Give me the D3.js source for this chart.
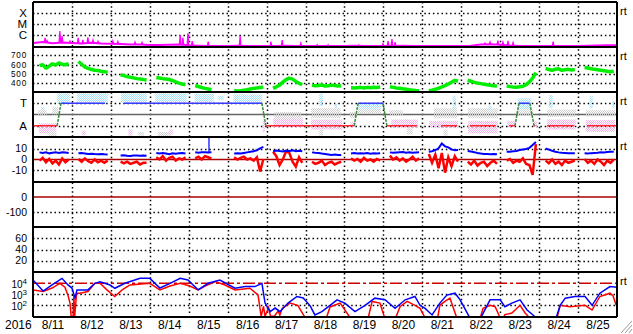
<!DOCTYPE html>
<html>
<head>
<meta charset="utf-8">
<script src="https://cdn.jsdelivr.net/npm/d3@7"></script>
<style>
  body { margin: 0; background: #fff; }
  svg { display: block; font-family: "Liberation Sans", Arial, sans-serif; }
</style>
</head>
<body>
<svg id="chart" width="633" height="334"></svg>
<script>
// ---- data (time = days since 2016-08-11 00:00) ----
const YEAR_LABEL = '2016';
const DAY_LABELS = ['8/11','8/12','8/13','8/14','8/15','8/16','8/17','8/18','8/19','8/20','8/21','8/22','8/23','8/24','8/25'];
const SAMPLE_HOURS = [4, 6, 8, 10, 12, 14, 16, 18, 20, 22];

// solar wind speed, km/s (one row per day)
const speed = [
  590, 600, 560, 585, 610, 595, 620, 605, 600, 612,
  635, 605, 575, 560, 548, 540, 538, 530, 525, 520,
  null, 492, 482, 472, 465, 458, 450, 445, 440, 436,
  462, 456, 450, 446, 440, 430, 415, 402, 392, 385,
  376, 365, 355, 345, 338, 330, null, null, null, null,
  322, 318, 320, 325, 330, 338, 345, 350, 355, 358,
  345, 362, 380, 412, 440, 455, 445, 420, 400, 385,
  380, 372, 376, 382, 370, 374, 380, 376, 370, 372,
  352, 350, 353, 356, 350, 356, 352, 358, 355, 360,
  362, 356, 350, 346, 340, 335, 330, 326, 322, 320,
  322, 326, 335, 346, 360, 375, 392, 412, 432, 422,
  435, 422, 410, 402, 396, 390, 385, 378, 372, 370,
  372, 364, 360, 358, 362, 368, 385, 415, 455, 515,
  560, 548, 540, 552, 556, 540, 546, 550, 544, 548,
  570, 565, 556, 550, 546, 540, 536, 530, 525, 530
];

// IMF |B| (nT)
const bt = [
  6.5, 6.0, 6.6, 5.6, 6.2, 6.5, 6.0, 6.6, 6.4, 6.0,
  5.6, 5.9, 5.5, 5.0, 5.3, 5.0, 4.8, 5.1, 4.8, 4.6,
  null, 3.6, 3.9, 3.4, 3.2, 3.6, 3.7, 3.4, 3.6, 3.4,
  6.0, 5.4, 5.9, 5.5, 4.9, 5.7, 5.2, 5.6, 5.9, 5.5,
  6.5, 6.2, 6.6, 6.7, 6.4, 6.6, null, null, null, null,
  5.5, 5.7, 5.4, 6.0, 6.5, 7.0, 7.6, 8.4, 10.2, 11.5,
  7.6, 8.1, 7.7, 7.4, 8.0, 7.8, 8.3, 7.5, 7.9, 7.6,
  6.5, 6.1, 6.0, 5.4, 5.0, 4.6, 4.2, 4.5, 4.0, 4.2,
  5.5, 5.9, 5.4, 5.7, 5.5, 5.9, 5.3, 5.6, 5.5, 5.7,
  6.5, 6.1, 6.4, 6.6, 6.8, 6.2, 6.5, 6.2, 6.4, 6.6,
  7.0, 7.6, 8.6, 10.2, 14.6, 12.0, 11.0, 9.2, 8.5, 8.6,
  7.8, 7.2, 6.7, 6.0, 5.4, 5.1, 5.0, 4.8, 4.9, 4.7,
  7.0, 7.1, 7.5, 7.8, 8.6, 9.1, 9.6, 10.6, 13.2, 16.0,
  10.0, 9.0, 8.0, 7.1, 6.5, 6.1, 6.0, 5.8, 5.6, 5.6,
  5.6, 5.4, 5.8, 6.0, 6.2, 6.6, 6.4, 6.8, 7.0, 7.1
];
const btSpikes = [[4.52, 6.5, 20]];

// IMF Bz (nT)
const bz = [
  -1, 1.5, -2.5, 0.5, -3.5, -1, -4.5, 1, -2.5, 0,
  0.5, -2, 1, -1.5, -3, 0, -2.5, -1, -3, -1,
  null, -2, -3.5, -2, -4, -3, -2, -4.5, -3, -3,
  2, 0, 3, -1, 1.5, 2.5, -1, 1, 0, 2,
  1, 2.5, 0, 3, 2, 1, null, null, null, null,
  2, 0, 1.5, 2.5, 0, 1, -1, 2, -11, 0.5,
  7, 3, -5, 0, 7.5, 6, -2, -6.5, 2, -3,
  -2, -4, -3, -1, -5, -3, -2, -4.5, -3, -2,
  1, -1, 0.5, -2, 1.5, -1, 0, -2, 0.5, -1,
  3.5, 0, 2, -1, 1, -2, 0, 2.5, -1, 1,
  5, -3, 4.5, -8, 6, -12, 2, -6, 3, -2,
  -2, -4.5, -1, -5.5, -3, -2, -6, -3, -1, -4,
  -1, 0.5, -3, -1, -2, 1, -4, -5, -14, 14,
  -1, -3.5, 0, -4, -2, -5, -1, -3, -2, -1,
  0.5, -3, -1, -4, 0, -2, -5, -1, -3, 0
];

// X-ray background flux (W/m2), every 6 hours
const xrayBase = [
  1.9e-7, 2.3e-7, 1.8e-7, 2.1e-7,
  1.9e-7, 1.7e-7, 2.0e-7, 1.7e-7,
  1.6e-7, 1.5e-7, 1.4e-7, 1.35e-7,
  1.25e-7, 1.2e-7, 1.3e-7, 1.4e-7,
  1.15e-7, 1.05e-7, 1.0e-7, 1.0e-7,
  1.0e-7, 1.05e-7, 1.0e-7, 1.0e-7,
  1.0e-7, 1.0e-7, 1.05e-7, 1.0e-7,
  1.0e-7, 1.0e-7, 1.0e-7, 1.0e-7,
  1.0e-7, 1.05e-7, 1.0e-7, 1.0e-7,
  1.0e-7, 1.0e-7, 1.05e-7, 1.0e-7,
  1.0e-7, 1.0e-7, 1.0e-7, 1.0e-7,
  1.0e-7, 1.05e-7, 1.35e-7, 1.45e-7,
  1.3e-7, 1.1e-7, 1.0e-7, 1.0e-7,
  1.0e-7, 1.0e-7, 1.0e-7, 1.0e-7,
  1.0e-7, 1.05e-7, 1.1e-7, 1.15e-7,
  1.15e-7
];
// flares: [time, peak flux]
const xrayFlares = [
  [0.31, 5.4e-7], [0.36, 3.2e-7], [0.69, 2.3e-6], [0.745, 8e-7], [0.95, 2.8e-7],
  [1.16, 5.4e-7], [1.28, 3.5e-7], [1.41, 6e-7], [1.54, 3.5e-7], [1.67, 2.6e-7],
  [2.05, 2.8e-7], [2.18, 2.5e-7], [2.62, 2.3e-7], [2.8, 2.1e-7],
  [3.78, 1e-6], [3.85, 5.4e-7], [3.98, 1.4e-6], [4.09, 2.8e-7], [4.5, 2.5e-7],
  [5.32, 8.1e-7], [6.11, 2.5e-7], [6.4, 3.5e-7], [6.88, 1.8e-7], [7.3, 1.3e-7],
  [7.58, 1.3e-7], [8.37, 1.25e-7], [8.99, 1.6e-7], [9.12, 2.8e-7], [9.22, 4.3e-7],
  [9.3, 2.3e-7], [11.61, 1.8e-7], [11.74, 2.3e-7], [11.94, 3e-7], [12.07, 2.3e-7],
  [12.2, 3e-7], [12.33, 2e-7], [13.36, 2.5e-7]
];

// IMF sector: [start, end, 'A' away | 'T' toward]
const sectors = [
  [0, 0.62, 'A'], [0.72, 1.85, 'T'], [2.34, 5.88, 'T'], [5.98, 8.25, 'A'],
  [8.35, 8.99, 'T'], [9.09, 9.86, 'A'], [10.48, 10.89, 'A'], [11.22, 11.89, 'A'],
  [12.23, 12.38, 'A'], [12.48, 12.76, 'T'], [12.87, 12.9, 'A'], [13.2, 13.9, 'A'],
  [14.23, 14.98, 'A']
];
// IMF phi angle scatter: [start, end, low deg, high deg, kind]
const phiClouds = [
  [0.13, 0.35, 175, 215, 'g'], [0.2, 0.3, 215, 240, 's'], [0.15, 0.6, 30, 110, 'p'],
  [0.4, 0.6, 5, 50, 'g'], [0.5, 0.65, 180, 240, 'g'], [0.62, 0.95, 270, 350, 's'],
  [1.13, 1.92, 275, 350, 's'], [1.25, 1.35, 15, 50, 'p'],
  [2.26, 2.93, 275, 350, 's'], [2.45, 2.55, 10, 60, 'p'], [2.7, 2.85, 10, 40, 'g'],
  [3.14, 3.95, 280, 350, 's'], [3.2, 3.55, 5, 40, 'g'], [3.5, 3.6, 20, 60, 'p'],
  [4.15, 4.65, 280, 345, 's'], [4.75, 4.9, 295, 330, 's'],
  [5.15, 5.88, 275, 340, 's'], [5.9, 5.96, 40, 140, 'p'],
  [6.17, 6.94, 80, 150, 'p'], [6.2, 6.9, 150, 200, 'g'],
  [7.14, 7.94, 60, 140, 'p'], [7.14, 7.9, 150, 230, 'g'], [7.35, 7.45, 250, 345, 's'],
  [7.35, 7.45, 10, 60, 'g'], [7.75, 7.82, 230, 270, 's'],
  [8.14, 8.32, 150, 200, 'g'], [8.15, 8.3, 80, 120, 'p'], [8.35, 8.94, 225, 270, 's'],
  [8.35, 8.94, 190, 225, 'g'],
  [9.15, 9.5, 175, 215, 'g'], [9.2, 9.89, 70, 140, 'p'], [9.6, 9.75, 20, 70, 'g'],
  [10.17, 10.92, 70, 130, 'p'], [10.3, 10.9, 150, 230, 'g'], [10.78, 10.86, 220, 330, 's'],
  [10.55, 10.65, 10, 60, 'g'],
  [11.17, 11.94, 150, 230, 'g'], [11.17, 11.94, 30, 130, 'p'], [11.7, 11.78, 210, 250, 's'],
  [12.18, 12.38, 80, 130, 'p'], [12.45, 12.8, 220, 310, 's'], [12.45, 12.85, 170, 220, 'g'],
  [12.85, 12.95, 80, 130, 'p'],
  [13.25, 13.35, 230, 335, 's'], [13.2, 13.95, 160, 220, 'g'], [13.2, 13.95, 60, 140, 'p'],
  [14.3, 14.38, 230, 330, 's'], [14.2, 14.95, 165, 215, 'g'], [14.2, 14.95, 40, 135, 'p'],
  [14.88, 14.94, 230, 290, 's']
];

// electron flux, log10 of pfu: [time, log10 flux]; null = off scale
const elecLowLog = [
  [0, 4.3], [0.26, 3.3], [0.49, 3.85], [0.745, 4.45], [0.9, 3.85], [1.0, 3.57], [1.08, 2.67],
  [1.13, 3.4], [1.41, 3.4], [1.59, 4.0], [1.72, 4.15], [1.98, 3.85], [2.1, 3.55], [2.36, 4.0],
  [2.75, 4.45], [3.0, 4.45], [3.26, 3.57], [3.52, 4.0], [3.78, 4.45], [3.98, 4.3], [4.24, 3.4],
  [4.5, 4.0], [4.8, 4.3], [5.19, 3.55], [5.45, 3.7], [5.7, 3.7], [5.88, 4.0], [5.96, 2.2],
  [6.09, 1.42], [6.22, 1.75], [6.34, 1.42], [6.55, 2.2], [6.78, 2.8], [6.94, 2.67], [7.12, 1.95],
  [7.24, 1.12], [7.42, 1.42], [7.63, 2.0], [7.81, 2.5], [8.01, 2.2], [8.27, 1.42], [8.53, 2.0],
  [8.78, 2.65], [9.04, 2.5], [9.3, 1.72], [9.56, 2.5], [9.81, 2.8], [9.94, 2.0], [10.07, 1.72],
  [10.25, 1.12], [10.45, 2.2], [10.63, 2.93], [10.84, 3.1], [10.97, 2.5], [11.2, 1.0],
  [11.23, null], [11.48, null], [11.52, 1.0], [11.74, 2.5], [12.0, 2.5], [12.12, 1.87], [12.3, 2.2],
  [12.51, 2.5], [12.69, 1.57], [12.88, 1.0], [12.9, null], [13.41, null], [13.45, 1.0],
  [13.54, 2.0], [13.67, 2.65], [13.92, 2.8], [14.18, 2.8], [14.36, 2.0], [14.56, 3.1],
  [14.82, 3.7], [15.0, 3.65]
];
const elecHighLog = [
  [0, 3.4], [0.26, 3.25], [0.49, 3.57], [0.69, 4.0], [0.82, 3.65], [0.9, 2.9], [0.95, 2.2],
  [0.98, 1.0], [1.03, 1.0], [1.05, 2.9], [1.07, 1.0], [1.12, 3.1], [1.21, 3.1], [1.41, 3.25],
  [1.59, 4.0], [1.72, 4.0], [1.9, 3.4], [2.1, 2.8], [2.29, 3.4], [2.49, 3.85], [3.0, 4.0],
  [3.26, 3.4], [3.52, 3.75], [3.78, 4.0], [4.03, 3.75], [4.24, 3.4], [4.42, 3.75], [4.68, 4.15],
  [4.93, 3.85], [5.19, 3.4], [5.57, 3.55], [5.78, 2.95], [5.86, 1.0], [5.92, 1.9], [5.96, 1.0],
  [6.05, 1.8], [6.1, 1.0], [6.2, 1.0], [6.3, 1.5], [6.34, 1.1], [6.4, 1.72], [6.6, 2.2],
  [6.8, 2.0], [6.97, 1.0], [6.99, null], [7.5, null], [7.55, 1.0], [7.63, 1.85], [7.89, 2.2],
  [8.12, 1.0], [8.14, null], [8.6, null], [8.62, 1.0], [8.71, 2.35], [8.91, 2.2], [9.02, 1.0],
  [9.04, null], [9.3, null], [9.33, 1.0], [9.43, 1.9], [9.61, 2.35], [9.81, 2.0], [9.94, 1.72],
  [10.05, 1.0], [10.07, null], [10.38, null], [10.4, 1.0], [10.45, 2.0], [10.58, 2.35],
  [10.71, 2.65], [10.87, 1.0], [10.89, null], [11.48, null], [11.5, 1.0], [11.56, 1.72],
  [11.74, 2.0], [11.87, 1.87], [11.98, 1.0], [12.0, null], [12.08, null], [12.1, 1.0],
  [12.12, 1.15], [12.3, 1.3], [12.51, 2.0], [12.64, 1.3], [12.72, 1.0], [12.74, null],
  [13.45, null], [13.47, 1.0], [13.54, 2.0], [13.79, 1.87], [14.18, 2.0], [14.36, 1.57],
  [14.56, 2.8], [14.82, 3.1], [14.9, 2.85], [14.98, 2.0]
];

// axis tick labels
const xrayTicks = [[1e-4, 'X'], [1e-5, 'M'], [1e-6, 'C']];
const speedTicks = [700, 600, 500, 400];
const sectorTicks = [[270, 'T'], [90, 'A']];
const bzTicks = [10, 0, -10];
const dstTicks = [0, -100];
const kpTicks = [60, 40, 20];
const elecTicks = [4, 3, 2];
const ELEC_ALERT = 1e4;

// ---- layout ----
const X0 = 33, X1 = 617, PH = 45;
const TOPS = [2, 47, 92, 137, 182, 227, 272];
const svg = d3.select('#chart');
const x = d3.scaleLinear().domain([0, DAY_LABELS.length]).range([X0, X1]);

const yXray = d3.scaleLog().domain([8.1e-8, 1e-3]).range([TOPS[0] + PH, TOPS[0]]);
const ySpeed = d3.scaleLinear().domain([306, 791]).range([TOPS[1] + PH, TOPS[1]]);
const yPhi = d3.scaleLinear().domain([0, 360]).range([TOPS[2] + PH, TOPS[2]]);
const yB = d3.scaleLinear().domain([-20.5, 20.5]).range([TOPS[3] + PH, TOPS[3]]);
const yDst = d3.scaleLinear().domain([-200, 100]).range([TOPS[4] + PH, TOPS[4]]);
const yKp = d3.scaleLinear().domain([0, 80]).range([TOPS[5] + PH, TOPS[5]]);
const yE = d3.scaleLog().domain([8.6, 1.07e5]).range([TOPS[6] + PH, TOPS[6]]);

const COL = { xray: '#ff00ff', speed: '#00ee00', bt: '#0000ff', bz: '#ff0000',
  away: '#ff2a2a', toward: '#3a3aff', turn: '#3c8c3c', zero: '#aa0000',
  s: '#a6e2f6', p: '#f2b2ee', g: '#cfcfcf', eLow: '#0000ff', eHigh: '#ff0000' };

const defs = svg.append('defs');
TOPS.forEach((t, i) => {
  defs.append('clipPath').attr('id', 'clip' + i)
    .append('rect').attr('x', X0).attr('y', t).attr('width', X1 - X0).attr('height', PH);
});
['s', 'p', 'g'].forEach(k => {
  const p = defs.append('pattern').attr('id', 'dots-' + k)
    .attr('width', 2).attr('height', 2).attr('patternUnits', 'userSpaceOnUse');
  p.append('rect').attr('width', 1).attr('height', 1).attr('fill', COL[k]);
  p.append('rect').attr('x', 1).attr('y', 1).attr('width', 1).attr('height', 1).attr('fill', COL[k]);
});

// helper: per-day sample array -> [t, v] with a break between days
function daySeries(vals) {
  const n = SAMPLE_HOURS.length, out = [];
  vals.forEach((v, i) => {
    const day = Math.floor(i / n);
    out.push([day + SAMPLE_HOURS[i % n] / 24, v]);
    if (i % n === n - 1) out.push([day + 1, null]);
  });
  return out;
}
const lineOf = ys => d3.line().defined(d => d[1] != null).x(d => x(d[0])).y(d => ys(d[1]));

const grid = svg.append('g').attr('stroke', '#000').attr('stroke-width', 1.5)
  .attr('stroke-dasharray', '1.5,2.8');
function hDotted(ys, vals) {
  grid.selectAll(null).data(vals).join('line')
    .attr('x1', X0).attr('x2', X1)
    .attr('y1', d => Math.round(ys(d)) + 0.5).attr('y2', d => Math.round(ys(d)) + 0.5);
}
// vertical day gridlines
grid.selectAll(null).data(d3.range(1, DAY_LABELS.length)).join('line')
  .attr('x1', d => Math.round(x(d)) + 0.5).attr('x2', d => Math.round(x(d)) + 0.5)
  .attr('y1', TOPS[0]).attr('y2', TOPS[6] + PH);
hDotted(yXray, xrayTicks.map(d => d[0]));
hDotted(ySpeed, speedTicks);
hDotted(yPhi, sectorTicks.map(d => d[0]));
hDotted(yB, bzTicks.filter(d => d !== 0));
hDotted(yDst, dstTicks.filter(d => d !== 0));
hDotted(yKp, kpTicks);
hDotted(yE, elecTicks.filter(d => d !== 4).map(e => Math.pow(10, e)));

// reference lines
svg.append('line').attr('x1', X0).attr('x2', X1)
  .attr('y1', yPhi(180)).attr('y2', yPhi(180)).attr('stroke', '#666').attr('stroke-width', 1.5);
svg.append('line').attr('x1', X0).attr('x2', X1)
  .attr('y1', yB(0)).attr('y2', yB(0)).attr('stroke', COL.zero).attr('stroke-width', 1.5);
svg.append('line').attr('x1', X0).attr('x2', X1)
  .attr('y1', yDst(0)).attr('y2', yDst(0)).attr('stroke', COL.zero).attr('stroke-width', 1.5);
svg.append('line').attr('x1', X0).attr('x2', X1)
  .attr('y1', yE(ELEC_ALERT)).attr('y2', yE(ELEC_ALERT)).attr('stroke', '#cc0000')
  .attr('stroke-width', 1.5).attr('stroke-dasharray', '12,3,3,3');

// panel 1: X-ray
const p1 = svg.append('g').attr('clip-path', 'url(#clip0)');
p1.append('path').datum(xrayBase.map((v, i) => [i / 4, v]))
  .attr('d', lineOf(yXray)).attr('fill', 'none').attr('stroke', COL.xray).attr('stroke-width', 2);
p1.selectAll(null).data(xrayFlares).join('path')
  .attr('d', d => {
    const b = xrayBase[Math.round(d[0] * 4)];
    return `M${x(d[0] - 0.02)},${yXray(b)}L${x(d[0])},${yXray(d[1])}L${x(d[0] + 0.02)},${yXray(b)}`;
  })
  .attr('fill', 'none').attr('stroke', COL.xray).attr('stroke-width', 1.3);

// panel 2: speed
svg.append('g').attr('clip-path', 'url(#clip1)')
  .append('path').datum(daySeries(speed))
  .attr('d', lineOf(ySpeed)).attr('fill', 'none').attr('stroke', COL.speed)
  .attr('stroke-width', 3.5).attr('stroke-linejoin', 'bevel');

// panel 3: phi scatter + sector line
const p3 = svg.append('g').attr('clip-path', 'url(#clip2)');
p3.selectAll(null).data(phiClouds).join('rect')
  .attr('x', d => x(d[0])).attr('width', d => Math.max(2, x(d[1]) - x(d[0])))
  .attr('y', d => yPhi(d[3])).attr('height', d => yPhi(d[2]) - yPhi(d[3]))
  .attr('fill', d => `url(#dots-${d[4]})`);
const secY = s => yPhi(s === 'T' ? 270 : 90);
p3.selectAll(null).data(sectors).join('line')
  .attr('x1', d => x(d[0])).attr('x2', d => x(d[1]))
  .attr('y1', d => secY(d[2])).attr('y2', d => secY(d[2]))
  .attr('stroke', d => d[2] === 'T' ? COL.toward : COL.away).attr('stroke-width', 1.5);
const turns = d3.pairs(sectors).filter(([a, b]) => a[2] !== b[2] && b[0] - a[1] < 0.2);
p3.selectAll(null).data(turns).join('line')
  .attr('x1', d => x(d[0][1])).attr('y1', d => secY(d[0][2]))
  .attr('x2', d => x(d[1][0])).attr('y2', d => secY(d[1][2]))
  .attr('stroke', COL.turn).attr('stroke-width', 1.5).attr('stroke-dasharray', '3,1');

// panel 4: Bt / Bz
const p4 = svg.append('g').attr('clip-path', 'url(#clip3)');
p4.append('path').datum(daySeries(bz)).attr('d', lineOf(yB))
  .attr('fill', 'none').attr('stroke', COL.bz).attr('stroke-width', 2.5);
p4.append('path').datum(daySeries(bt)).attr('d', lineOf(yB))
  .attr('fill', 'none').attr('stroke', COL.bt).attr('stroke-width', 2);
p4.selectAll(null).data(btSpikes).join('line')
  .attr('x1', d => x(d[0])).attr('x2', d => x(d[0]))
  .attr('y1', d => yB(d[1])).attr('y2', d => yB(d[2]))
  .attr('stroke', COL.bt).attr('stroke-width', 1.2);

// panel 7: electrons
const p7 = svg.append('g').attr('clip-path', 'url(#clip6)');
const eLine = d3.line().defined(d => d[1] != null)
  .x(d => x(d[0])).y(d => yE(Math.pow(10, d[1])));
p7.append('path').datum(elecHighLog).attr('d', eLine)
  .attr('fill', 'none').attr('stroke', COL.eHigh).attr('stroke-width', 1.5);
p7.append('path').datum(elecLowLog).attr('d', eLine)
  .attr('fill', 'none').attr('stroke', COL.eLow).attr('stroke-width', 1.5);

// panel frames
const frame = svg.append('g').attr('stroke', '#000').attr('stroke-width', 2).attr('fill', 'none');
TOPS.forEach(t => frame.append('line').attr('x1', X0).attr('x2', X1).attr('y1', t).attr('y2', t));
frame.append('line').attr('x1', X0).attr('x2', X1).attr('y1', TOPS[6] + PH).attr('y2', TOPS[6] + PH);
frame.append('line').attr('x1', X0).attr('x2', X0).attr('y1', TOPS[0]).attr('y2', TOPS[6] + PH);
frame.append('line').attr('x1', X1).attr('x2', X1).attr('y1', TOPS[0]).attr('y2', TOPS[6] + PH);

// left labels
const lab = svg.append('g').attr('font-size', 10.5).attr('fill', '#000').attr('text-anchor', 'end');
function leftLabels(ys, items, fs, ls) {
  lab.selectAll(null).data(items).join('text')
    .attr('font-size', fs || null).attr('letter-spacing', ls || null)
    .attr('x', X0 - 6).attr('y', d => ys(d[0])).attr('dy', '0.35em').text(d => d[1]);
}
leftLabels(yXray, xrayTicks, 11.5);
leftLabels(ySpeed, speedTicks.map(v => [v, v]), 8.2, 0.8);
leftLabels(yPhi, sectorTicks, 11.5);
leftLabels(yB, bzTicks.map(v => [v, v]));
leftLabels(yDst, dstTicks.map(v => [v, v]));
leftLabels(yKp, kpTicks.map(v => [v, v]));
const eLab = lab.selectAll(null).data(elecTicks).join('text')
  .attr('x', X0 - 6).attr('y', d => yE(Math.pow(10, d))).attr('dy', '0.45em').attr('font-size', 10);
eLab.append('tspan').text('10');
eLab.append('tspan').attr('dy', '-0.5em').attr('font-size', 8).text(d => d);

// right "rt" labels
svg.append('g').attr('font-size', 11).selectAll(null).data([0, 1, 2, 3, 6]).join('text')
  .attr('x', X1 + 3).attr('y', i => TOPS[i] + 9).attr('dy', '0.35em').text('rt');

// bottom axis
const xAxis = d3.axisBottom(x)
  .tickValues(d3.range(DAY_LABELS.length).map(i => i + 0.5))
  .tickFormat(d => DAY_LABELS[Math.floor(d)]).tickSize(0).tickPadding(3);
const ax = svg.append('g').attr('transform', `translate(0,${TOPS[6] + PH})`).call(xAxis);
ax.select('.domain').remove();
ax.selectAll('text').attr('font-size', 12).attr('font-family', '"Liberation Sans", Arial, sans-serif').attr('fill', '#000');
svg.append('text').attr('x', 5).attr('y', TOPS[6] + PH + 3).attr('dy', '0.71em')
  .attr('font-size', 12).text(YEAR_LABEL);

// resize grip
svg.append('g').attr('stroke', '#999').attr('stroke-width', 1)
  .selectAll(null).data([4, 8, 12]).join('line')
  .attr('x1', d => 633 - d).attr('y1', 333).attr('x2', 632).attr('y2', d => 333 - d);
</script>
</body>
</html>
